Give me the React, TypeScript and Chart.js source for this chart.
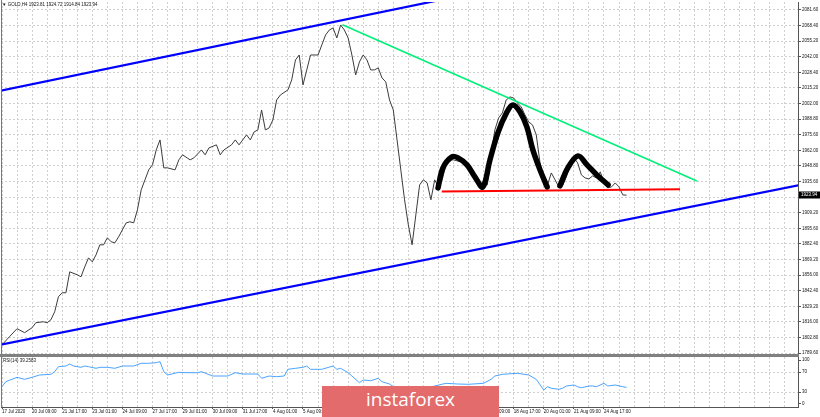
import { useEffect, useRef } from "react";
import { Chart, registerables } from "chart.js";
Chart.register(...registerables);

// ---- axis labels ----
const xLabels = [
  "17 Jul 2020", "20 Jul 09:00", "21 Jul 17:00", "23 Jul 01:00", "24 Jul 09:00",
  "27 Jul 17:00", "29 Jul 01:00", "30 Jul 09:00", "31 Jul 17:00", "4 Aug 01:00",
  "5 Aug 09:00", "6 Aug 17:00", "10 Aug 01:00", "11 Aug 09:00", "12 Aug 17:00",
  "14 Aug 01:00", "17 Aug 09:00", "18 Aug 17:00", "20 Aug 01:00", "21 Aug 09:00",
  "24 Aug 17:00",
];
const priceTickLabels = [
  "1789.60", "1802.80", "1816.00", "1829.20", "1842.40", "1856.00", "1869.20", "1882.40",
  "1895.60", "1909.20", "1922.40", "1935.60", "1948.80", "1962.00", "1975.60", "1988.80",
  "2002.00", "2015.20", "2028.40", "2042.00", "2055.20", "2068.40", "2081.60",
];
const rsiTickValues = [7, 30, 70, 94];
const rsiTickLabels = ["0", "30", "70", "100"];
const rsiGridValues = [30, 70];

// ---- GOLD H4 close (bar index from 17 Jul 01:00) ----
const priceBars = [
  0, 2, 4, 6, 8, 9, 11, 12, 13, 14,
  15, 16, 17, 18, 20, 21, 22, 23, 24, 25,
  26, 27, 28, 29, 30, 31, 33, 34, 35, 36,
  37, 38, 39, 40, 41, 42, 43, 44, 46, 47,
  48, 50, 51, 53, 54, 55, 57, 58, 59, 61,
  62, 63, 65, 66, 67, 68, 69, 70, 71, 72,
  73, 74, 76, 77, 78, 79, 80, 81, 82, 84,
  85, 86, 87, 88, 89, 90, 91, 92, 93, 94,
  95, 96, 97, 98, 99, 100, 101, 102, 103, 104,
  105, 106, 107, 108, 109, 110, 111, 112, 113, 114,
  115, 116, 117, 118, 119, 120, 122, 124, 126, 128,
  129, 130, 131, 132, 133, 134, 135, 136, 137, 138,
  139, 140, 141, 142, 143, 144, 145, 146, 147, 148,
  149, 150, 151, 152, 153, 154, 155, 156, 157, 158,
  159, 160, 161, 162, 163, 164, 165, 166,
];
const priceValues = [
  1796.6, 1803.5, 1810.3, 1806.9, 1811.1, 1815.4, 1816.2, 1815.4, 1817.9, 1824.7,
  1837.5, 1840.9, 1840.9, 1858.7, 1856.2, 1854.5, 1863.0, 1870.6, 1867.2, 1873.2,
  1881.7, 1881.7, 1887.7, 1884.3, 1883.4, 1888.5, 1900.4, 1901.3, 1900.4, 1911.5,
  1928.5, 1937.0, 1945.5, 1949.8, 1962.5, 1971.0, 1947.2, 1947.2, 1945.5, 1954.0,
  1958.3, 1954.0, 1955.7, 1962.5, 1958.3, 1964.2, 1966.8, 1958.3, 1962.5, 1966.8,
  1971.0, 1966.8, 1975.3, 1971.0, 1977.8, 1979.5, 1996.5, 1979.5, 1981.2, 1988.0,
  2005.0, 2009.3, 2013.6, 2022.1, 2039.1, 2043.3, 2017.8, 2030.6, 2043.3, 2043.3,
  2051.8, 2060.3, 2064.6, 2066.3, 2057.8, 2068.8, 2064.6, 2057.8, 2043.3, 2026.3,
  2037.4, 2043.3, 2039.1, 2030.6, 2030.6, 2032.3, 2023.8, 2020.4, 2005.0, 1996.5,
  1971.0, 1945.5, 1920.0, 1898.7, 1881.7, 1907.2, 1932.7, 1937.0, 1934.4, 1920.0,
  1937.0, 1931.0, 1937.0, 1949.8, 1954.0, 1954.0, 1952.3, 1947.2, 1939.5, 1931.9,
  1932.7, 1958.3, 1979.5, 1989.7, 1994.0, 2005.0, 2007.6, 2006.7, 2002.5, 1999.1,
  1992.3, 1986.3, 1983.8, 1975.3, 1951.5, 1932.7, 1932.7, 1942.9, 1937.0, 1931.0,
  1931.9, 1939.5, 1949.8, 1955.7, 1951.5, 1941.2, 1938.6, 1937.8, 1940.4, 1938.6,
  1943.8, 1935.3, 1930.2, 1931.0, 1934.4, 1931.0, 1924.2, 1923.94,
];
const lastPriceLabel = "1923.94";

// ---- RSI(14) ----
const rsiBars = [
  0, 1, 4, 6, 8, 10, 13, 14, 15, 17,
  18, 19, 21, 22, 23, 25, 26, 28, 30, 32,
  35, 37, 39, 41, 42, 43, 44, 47, 49, 52,
  53, 56, 60, 62, 64, 68, 69, 71, 73, 75,
  76, 78, 80, 81, 82, 85, 88, 89, 90, 92,
  93, 95, 96, 98, 100, 101, 103, 106, 109, 111,
  115, 118, 121, 124, 128, 130, 131, 133, 137, 140,
  142, 144, 145, 146, 148, 149, 150, 152, 153, 154,
  156, 157, 158, 160, 161, 163, 165, 166,
];
const rsiValues = [
  40.6, 50.6, 59.4, 55.4, 59.4, 64, 65.4, 70.6, 80.6, 82,
  86, 82, 79.4, 82, 80.6, 77.4, 79.4, 79.4, 77.4, 82,
  82, 87.4, 87.4, 88.6, 90.6, 70.6, 64, 69.4, 68.6, 68.6,
  70.6, 62, 62, 68.6, 66, 66, 57.4, 62, 60.6, 62,
  75.4, 77.4, 79.4, 82, 75.4, 75.4, 82, 75.4, 77.4, 68.6,
  62, 48.6, 54, 52.6, 57.4, 50.6, 46, 30, 18, 34,
  42, 47.4, 46, 45.4, 47.4, 55.4, 62, 65.4, 67.4, 64,
  55.4, 34, 40.6, 37.4, 35.4, 37.4, 42, 44, 40.6, 38.6,
  42, 42, 40.6, 47.4, 42, 44, 40.6, 39.26,
];

// ---- drawn annotations (bar index, price) ----
const upperChannelBars = [-1, 125];
const upperChannelPrices = [2012.4, 2095.8];
const lowerChannelBars = [-1, 212];
const lowerChannelPrices = [1796.3, 1932.6];
const greenLineBars = [90.5, 184.7];
const greenLinePrices = [2069.0, 1936.1];
const redLineBars = [116.9, 180.2];
const redLinePrices = [1927.0, 1929.1];
const patternBars = [
  115.9, 117.2, 119.6, 121.2, 123.6, 125.7, 127.8, 129.7, 131.8, 134.2, 135.8, 137.7,
  139.5, 141.1, 143.0, 144.9, 146.6, 148.3, 150.4, 153.1, 155.5, 158.1, 161.1,
];
const patternPrices = [
  1930.2, 1947.2, 1956.6, 1955.7, 1949.8, 1939.5, 1931.0, 1954.0, 1977.0, 1994.8, 2000.8, 1994.8,
  1982.1, 1962.5, 1945.5, 1931.0, null, 1931.9, 1947.2, 1957.4, 1949.8, 1941.2, 1932.7,
];

const X_MIN = -0.266;
const X_MAX = 211.57;
const Y_MIN = 1788.75;
const Y_MAX = 2088.41;
const gridBars = Array.from({ length: 53 }, (_, i) => i * 4);

const pts = (xs: number[], ys: (number | null)[]) => xs.map((x, i) => ({ x, y: ys[i] }));
const FONT = { size: 4.5, family: "'Liberation Sans', Arial, sans-serif" };
const GRID = "#cfcfcf";
const AXIS = "#555";

const priceBoxPlugin = {
  id: "priceBox",
  afterDraw(chart: any) {
    const { ctx, chartArea } = chart;
    const y = chart.scales.y.getPixelForValue(priceValues[priceValues.length - 1]);
    ctx.save();
    ctx.fillStyle = "#000";
    ctx.fillRect(chartArea.right + 1, Math.round(y) - 3.5, 21, 7);
    ctx.fillStyle = "#fff";
    ctx.font = `4.5px ${FONT.family}`;
    ctx.textBaseline = "middle";
    ctx.fillText(lastPriceLabel, chartArea.right + 3, y);
    ctx.restore();
  },
};

export default function App() {
  const refA = useRef<HTMLCanvasElement>(null);
  const refB = useRef<HTMLCanvasElement>(null);

  useEffect(() => {
    const lineDs = (label: string, data: any, color: string, width: number, order: number, extra: any = {}) => ({
      label, data, borderColor: color, borderWidth: width, pointRadius: 0, fill: false,
      tension: 0, order, ...extra,
    });

    const a = new Chart(refA.current!, {
      type: "line",
      data: {
        datasets: [
          lineDs("pattern", pts(patternBars, patternPrices), "#000", 5.5, 1, {
            tension: 0.35, borderCapStyle: "round", borderJoinStyle: "round", spanGaps: false,
          }),
          lineDs("support", pts(redLineBars, redLinePrices), "#ff0000", 2, 2),
          lineDs("resistance", pts(greenLineBars, greenLinePrices), "#00f07a", 1.6, 3),
          lineDs("upper", pts(upperChannelBars, upperChannelPrices), "#0000ff", 2.2, 4),
          lineDs("lower", pts(lowerChannelBars, lowerChannelPrices), "#0000ff", 2.2, 5),
          lineDs("GOLD", pts(priceBars, priceValues), "#3c3c3c", 1, 10),
        ],
      },
      options: {
        animation: false,
        responsive: false,
        events: [],
        layout: { padding: { left: 1, top: 2, right: 0, bottom: 0 } },
        plugins: { legend: { display: false }, tooltip: { enabled: false } },
        scales: {
          x: {
            type: "linear", min: X_MIN, max: X_MAX, bounds: "data",
            afterBuildTicks: (s: any) => { s.ticks = gridBars.map((v) => ({ value: v })); },
            ticks: { display: false },
            grid: { color: GRID, drawTicks: false, lineWidth: 1 },
            border: { display: false, dash: [2, 2] },
            afterFit: (s: any) => { s.height = 2; s.paddingLeft = 0; s.paddingRight = 0; },
          },
          y: {
            type: "linear", position: "right", min: Y_MIN, max: Y_MAX, bounds: "data",
            afterBuildTicks: (s: any) => { s.ticks = priceTickLabels.map((l) => ({ value: parseFloat(l) })); },
            ticks: { callback: (_v: any, i: number) => priceTickLabels[i], font: FONT, color: "#111", padding: 1, autoSkip: false },
            grid: { color: GRID, tickColor: AXIS, tickLength: 3, tickBorderDash: [] },
            border: { display: true, color: AXIS, width: 1, dash: [2, 2] },
            afterFit: (s: any) => { s.width = 22; s.paddingTop = 0; s.paddingBottom = 0; },
          },
        },
      } as any,
      plugins: [priceBoxPlugin],
    });

    const b = new Chart(refB.current!, {
      type: "line",
      data: {
        datasets: [lineDs("RSI", pts(rsiBars, rsiValues), "#4ba3ff", 1, 1)],
      },
      options: {
        animation: false,
        responsive: false,
        events: [],
        layout: { padding: { left: 1, top: 0, right: 0, bottom: 0 } },
        plugins: { legend: { display: false }, tooltip: { enabled: false } },
        scales: {
          x: {
            type: "linear", min: X_MIN, max: X_MAX, bounds: "data",
            afterBuildTicks: (s: any) => { s.ticks = gridBars.map((v) => ({ value: v })); },
            ticks: {
              autoSkip: false, maxRotation: 0, minRotation: 0, align: "start", font: FONT, color: "#111", padding: 0,
              callback: (v: number) => (v % 8 === 0 && xLabels[v / 8]) ? xLabels[v / 8] : "",
            },
            grid: {
              color: GRID, tickLength: 2, tickBorderDash: [],
              tickColor: (c: any) => (c.tick && c.tick.value % 8 === 0 && xLabels[c.tick.value / 8]) ? AXIS : "rgba(0,0,0,0)",
            },
            border: { display: true, color: AXIS, width: 1, dash: [2, 2] },
            afterFit: (s: any) => { s.height = 10; s.paddingLeft = 0; s.paddingRight = 0; },
          },
          y: {
            type: "linear", position: "right", min: 0, max: 100, bounds: "data",
            afterBuildTicks: (s: any) => { s.ticks = rsiTickValues.map((v) => ({ value: v })); },
            ticks: { callback: (_v: any, i: number) => rsiTickLabels[i], font: FONT, color: "#111", padding: 1, autoSkip: false },
            grid: {
              color: (c: any) => (c.tick && rsiGridValues.includes(c.tick.value)) ? GRID : "rgba(0,0,0,0)",
              tickColor: AXIS, tickLength: 3, tickBorderDash: [],
            },
            border: { display: true, color: AXIS, width: 1, dash: [2, 2] },
            afterFit: (s: any) => { s.width = 22; s.paddingTop = 0; s.paddingBottom = 0; },
          },
        },
      } as any,
    });

    return () => { a.destroy(); b.destroy(); };
  }, []);

  const small: any = { position: "absolute", fontFamily: "'Liberation Sans', Arial, sans-serif", fontSize: "4.5px", color: "#111", whiteSpace: "nowrap", lineHeight: "6px" };

  return (
    <div style={{ position: "fixed", left: 0, top: 0, width: 820, height: 417, background: "#fff", overflow: "hidden" }}>
      <canvas ref={refA} width={820} height={356} style={{ position: "absolute", left: 0, top: 0 }} />
      <canvas ref={refB} width={820} height={60} style={{ position: "absolute", left: 0, top: 357 }} />
      <div style={{ position: "absolute", left: 1, top: 0, width: 1, height: 407, background: "#777" }} />
      <div style={{ position: "absolute", left: 0, top: 354, width: 799, height: 3, background: "#808080" }} />
      <div style={{ ...small, left: 2, top: 2 }}>▼ GOLD,H4 1923.81 1924.72 1914.84 1923.94</div>
      <div style={{ ...small, left: 3, top: 358 }}>RSI(14) 39.2583</div>
      <div style={{
        position: "absolute", left: 322, top: 386, width: 177, height: 31, background: "#e36b6b",
        color: "#fff", fontFamily: "'Open Sans', sans-serif", fontSize: "19px", lineHeight: "27px", textAlign: "center",
      }}>instaforex</div>
    </div>
  );
}
